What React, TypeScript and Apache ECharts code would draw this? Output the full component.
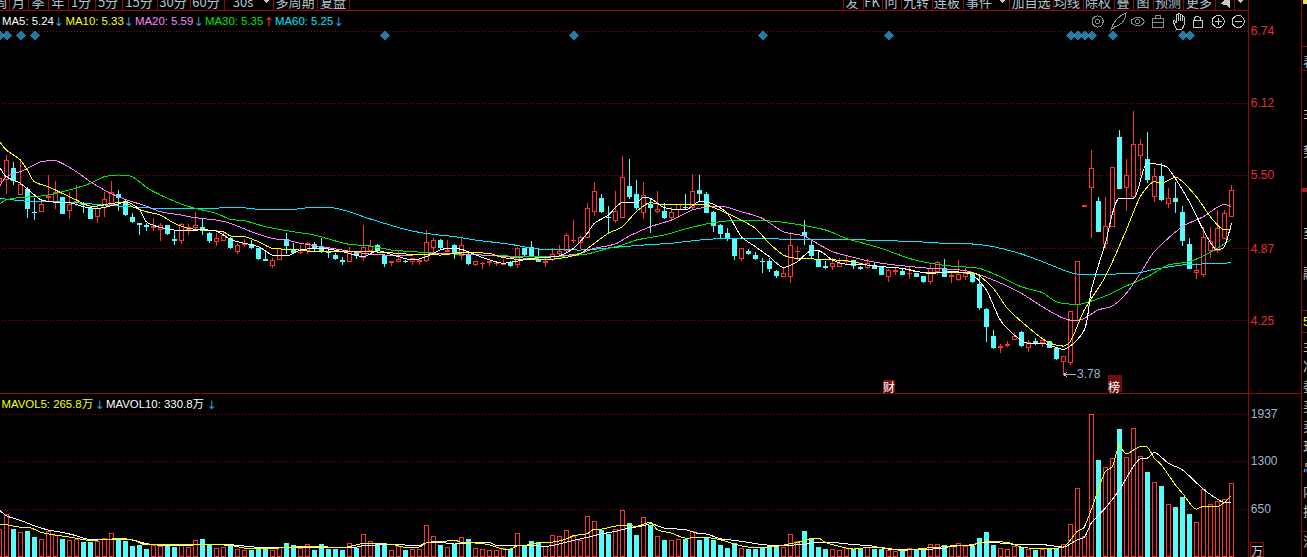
import React, { useEffect, useRef } from "react";
import * as echarts from "echarts";

const opens = [5.445,5.460,5.560,5.331,5.374,5.181,5.187,5.310,5.273,5.310,5.196,5.265,5.259,5.216,5.144,5.225,5.253,5.339,5.271,5.141,5.084,5.067,5.055,5.035,5.070,4.946,4.943,5.035,5.049,5.052,5.003,4.932,4.943,4.955,4.843,4.903,4.906,4.871,4.774,4.722,4.774,4.949,4.863,4.834,4.857,4.906,4.886,4.840,4.814,4.765,4.757,4.843,4.794,4.851,4.897,4.806,4.748,4.757,4.760,4.762,4.762,4.765,4.877,4.935,4.848,4.900,4.806,4.814,4.731,4.737,4.748,4.739,4.734,4.751,4.734,4.866,4.880,4.777,4.748,4.777,4.823,4.851,4.938,4.926,4.963,5.187,5.302,5.141,5.115,5.141,5.400,5.339,5.179,5.253,5.187,5.193,5.141,5.202,5.225,5.225,5.371,5.336,5.176,5.064,5.003,4.952,4.788,4.848,4.814,4.760,4.762,4.670,4.625,4.627,4.843,5.012,4.900,4.777,4.714,4.719,4.714,4.760,4.771,4.708,4.705,4.728,4.705,4.627,4.676,4.673,4.653,4.653,4.625,4.582,4.670,4.694,4.630,4.605,4.630,4.656,4.556,4.341,4.114,4.022,4.034,4.088,4.151,4.019,4.068,4.059,4.071,4.010,3.895,3.887,4.392,5.236,5.394,5.276,4.915,5.061,5.822,5.397,5.316,5.669,5.638,5.316,5.494,5.259,5.302,5.181,4.906,4.662,4.647,4.851,4.857,4.957,5.144];
const closes = [5.474,5.632,5.454,5.423,5.216,5.176,5.245,5.322,5.354,5.173,5.253,5.273,5.253,5.130,5.216,5.294,5.354,5.308,5.167,5.101,5.078,5.061,5.061,5.067,4.995,4.941,5.081,5.052,5.067,5.024,4.938,4.957,4.984,4.875,4.897,4.909,4.883,4.780,4.768,4.768,4.866,4.900,4.837,4.840,4.909,4.871,4.843,4.834,4.780,4.760,4.843,4.806,4.880,4.886,4.851,4.743,4.754,4.777,4.754,4.785,4.768,4.923,4.943,4.877,4.855,4.828,4.892,4.745,4.754,4.745,4.754,4.745,4.743,4.722,4.866,4.820,4.814,4.757,4.762,4.820,4.843,4.984,4.943,4.969,5.216,5.362,5.187,5.135,5.190,5.483,5.322,5.219,5.328,5.219,5.207,5.133,5.181,5.248,5.219,5.362,5.342,5.176,5.067,5.003,4.957,4.814,4.866,4.823,4.785,4.754,4.694,4.639,4.656,4.897,4.848,4.984,4.806,4.719,4.708,4.743,4.743,4.765,4.728,4.702,4.743,4.702,4.650,4.685,4.682,4.647,4.659,4.627,4.582,4.694,4.748,4.627,4.636,4.650,4.656,4.590,4.358,4.197,4.019,4.028,4.045,4.111,4.034,4.065,4.062,4.077,4.016,3.927,3.941,4.326,4.757,5.242,5.560,5.015,5.058,5.566,5.388,5.500,5.767,5.767,5.466,5.488,5.296,5.299,5.273,4.938,4.699,4.682,4.966,4.929,5.044,5.173,5.371];
const lows = [5.402,5.339,5.417,5.331,5.130,5.115,5.187,5.273,5.207,5.167,5.124,5.239,5.173,5.124,5.093,5.144,5.248,5.196,5.150,5.087,4.986,5.024,5.024,4.935,4.986,4.900,4.912,4.984,5.030,4.986,4.915,4.892,4.938,4.869,4.825,4.883,4.866,4.771,4.762,4.705,4.768,4.823,4.823,4.820,4.825,4.843,4.831,4.785,4.768,4.731,4.754,4.780,4.762,4.837,4.834,4.714,4.722,4.751,4.743,4.728,4.731,4.757,4.834,4.863,4.843,4.780,4.771,4.728,4.719,4.694,4.722,4.722,4.728,4.714,4.705,4.800,4.800,4.751,4.714,4.765,4.817,4.843,4.920,4.863,4.963,5.153,5.173,5.006,5.093,5.135,5.296,5.202,5.124,5.001,5.179,5.121,5.110,5.130,5.202,5.202,5.276,5.173,5.015,4.957,4.938,4.771,4.762,4.817,4.771,4.662,4.670,4.616,4.622,4.576,4.771,4.900,4.785,4.719,4.696,4.685,4.714,4.737,4.696,4.685,4.691,4.699,4.642,4.585,4.642,4.642,4.605,4.622,4.576,4.565,4.642,4.622,4.576,4.593,4.599,4.573,4.341,4.068,4.005,3.968,4.025,4.082,4.019,3.982,4.039,4.025,4.010,3.910,3.780,3.867,4.254,5.236,4.963,5.009,4.869,5.058,5.380,5.196,5.296,5.497,5.431,5.268,5.276,5.222,5.179,4.894,4.691,4.605,4.622,4.785,4.828,4.949,5.144];
const highs = [5.517,5.675,5.618,5.626,5.402,5.302,5.273,5.503,5.451,5.316,5.354,5.414,5.273,5.225,5.245,5.360,5.451,5.374,5.296,5.173,5.087,5.087,5.130,5.093,5.075,5.030,5.087,5.081,5.181,5.127,5.009,5.001,5.015,4.966,4.920,4.952,4.943,4.877,4.848,4.785,4.871,5.001,4.920,4.900,4.929,4.923,4.957,4.871,4.828,4.794,4.880,4.851,5.073,4.943,4.909,4.820,4.762,4.857,4.774,4.791,4.785,5.030,4.957,4.952,4.943,4.909,4.957,4.843,4.765,4.757,4.765,4.757,4.777,4.762,4.880,4.871,4.935,4.871,4.785,4.877,4.900,5.001,5.115,4.986,5.259,5.440,5.339,5.236,5.365,5.667,5.641,5.460,5.443,5.302,5.365,5.259,5.225,5.250,5.339,5.511,5.503,5.356,5.193,5.081,5.044,4.957,4.877,4.866,4.840,4.785,4.785,4.685,4.699,5.009,4.892,5.115,4.943,4.851,4.765,4.785,4.785,4.814,4.771,4.722,4.777,4.743,4.714,4.691,4.699,4.691,4.714,4.656,4.627,4.728,4.762,4.780,4.656,4.771,4.699,4.670,4.627,4.355,4.169,4.048,4.077,4.154,4.160,4.082,4.097,4.097,4.077,4.025,3.941,4.326,4.757,5.242,5.718,5.310,5.310,5.566,5.890,5.638,6.054,5.813,5.870,5.560,5.603,5.388,5.440,5.236,4.957,4.743,5.052,5.058,5.202,5.202,5.417];
const volumes = [379,587,384,339,357,275,244,352,293,248,230,244,208,199,221,257,325,244,221,154,167,113,163,154,154,131,172,135,230,248,181,122,135,163,113,95,99,122,108,95,135,194,167,122,172,99,181,113,113,99,190,122,312,217,181,190,90,154,99,108,108,433,289,158,135,181,271,248,122,108,95,95,122,108,325,167,221,199,154,298,284,366,289,235,555,488,370,316,379,637,465,303,542,438,284,235,230,248,248,352,235,271,235,167,126,190,122,113,113,126,163,167,135,312,217,357,248,140,113,108,95,117,108,108,135,108,108,99,86,99,122,90,95,176,176,163,154,185,144,144,262,343,167,126,108,154,135,108,99,108,108,122,176,447,935,289,1937,1318,1219,1341,1738,1355,1747,1368,1156,1016,966,718,682,817,587,474,921,718,759,786,1002];

const ma5: [number, number][] = [[0,5.575],[1,5.488],[3,5.431],[5,5.331],[6,5.288],[8,5.268],[10,5.265],[12,5.230],[14,5.216],[17,5.253],[18,5.273],[20,5.207],[21,5.101],[23,5.052],[26,5.024],[29,5.030],[31,5.021],[33,4.949],[34,4.929],[37,4.886],[39,4.814],[41,4.806],[43,4.857],[46,4.871],[49,4.843],[52,4.800],[54,4.851],[57,4.800],[59,4.771],[61,4.800],[63,4.857],[64,4.871],[66,4.863],[69,4.794],[72,4.743],[74,4.762],[76,4.785],[78,4.794],[80,4.806],[82,4.871],[84,5.001],[85,5.087],[87,5.158],[89,5.265],[91,5.265],[92,5.310],[93,5.302],[95,5.222],[98,5.202],[100,5.273],[102,5.253],[104,5.173],[106,4.972],[108,4.886],[110,4.800],[112,4.708],[114,4.757],[116,4.851],[117,4.851],[119,4.771],[121,4.734],[124,4.728],[126,4.714],[129,4.699],[133,4.656],[136,4.670],[139,4.642],[141,4.513],[143,4.254],[145,4.125],[147,4.053],[149,4.053],[152,4.002],[155,4.168],[156,4.513],[158,4.915],[160,5.302],[162,5.302],[164,5.603],[166,5.589],[167,5.560],[170,5.273],[172,5.030],[174,4.857],[175,4.886],[176,5.087]];
const ma10: [number, number][] = [[0,5.796],[1,5.718],[3,5.632],[4,5.546],[5,5.445],[7,5.402],[9,5.345],[11,5.288],[13,5.236],[14,5.236],[16,5.259],[18,5.265],[19,5.230],[21,5.187],[23,5.158],[25,5.087],[27,5.044],[30,5.024],[32,5.015],[33,4.978],[35,4.972],[37,4.929],[39,4.871],[42,4.863],[45,4.843],[49,4.843],[52,4.843],[55,4.837],[58,4.823],[63,4.814],[66,4.834],[70,4.828],[72,4.791],[76,4.771],[80,4.785],[83,4.828],[85,4.915],[87,5.001],[89,5.058],[91,5.187],[93,5.265],[95,5.245],[99,5.253],[101,5.245],[104,5.173],[106,5.115],[108,5.044],[110,4.915],[112,4.814],[114,4.785],[118,4.777],[122,4.757],[124,4.728],[126,4.714],[129,4.699],[131,4.670],[135,4.662],[139,4.662],[142,4.527],[144,4.355],[148,4.140],[150,4.059],[152,4.030],[153,4.068],[155,4.341],[158,4.627],[161,5.030],[163,5.316],[165,5.445],[166,5.431],[168,5.483],[171,5.316],[173,5.144],[175,5.030],[176,5.035]];
const ma20: [number, number][] = [[0,5.402],[1,5.488],[3,5.532],[5,5.589],[6,5.618],[8,5.626],[9,5.603],[11,5.532],[13,5.445],[15,5.374],[17,5.316],[19,5.273],[21,5.236],[23,5.187],[26,5.158],[28,5.135],[31,5.115],[33,5.087],[36,5.015],[39,4.957],[41,4.943],[43,4.915],[46,4.886],[49,4.857],[52,4.828],[55,4.814],[59,4.814],[63,4.828],[66,4.823],[71,4.806],[76,4.785],[80,4.806],[83,4.828],[85,4.871],[88,4.909],[90,4.978],[93,5.058],[96,5.115],[99,5.202],[101,5.225],[103,5.236],[106,5.187],[109,5.130],[112,5.015],[115,4.978],[116,4.943],[119,4.843],[122,4.794],[124,4.765],[126,4.743],[128,4.728],[133,4.699],[138,4.679],[142,4.599],[146,4.484],[149,4.369],[152,4.269],[154,4.249],[155,4.269],[157,4.341],[159,4.375],[161,4.484],[163,4.656],[165,4.843],[169,5.058],[172,5.144],[175,5.250],[176,5.230]];
const ma30: [number, number][] = [[0,5.253],[1,5.288],[3,5.310],[5,5.316],[7,5.331],[10,5.374],[13,5.431],[15,5.488],[17,5.503],[19,5.488],[21,5.397],[23,5.331],[26,5.253],[28,5.216],[31,5.173],[33,5.121],[35,5.110],[38,5.058],[41,5.024],[45,4.986],[48,4.935],[50,4.906],[53,4.892],[56,4.857],[59,4.843],[63,4.828],[69,4.814],[76,4.800],[81,4.806],[84,4.823],[87,4.871],[89,4.900],[91,4.943],[95,4.986],[98,5.038],[102,5.093],[105,5.110],[109,5.110],[113,5.087],[118,5.030],[121,4.957],[124,4.906],[126,4.871],[130,4.785],[133,4.743],[136,4.719],[140,4.699],[143,4.627],[146,4.541],[149,4.490],[151,4.412],[154,4.389],[155,4.398],[158,4.461],[161,4.547],[164,4.627],[167,4.728],[170,4.757],[173,4.837],[176,4.949]];
const ma60: [number, number][] = [[0,5.302],[3,5.282],[5,5.273],[8,5.273],[12,5.259],[17,5.236],[23,5.216],[30,5.216],[34,5.225],[38,5.202],[40,5.202],[42,5.207],[45,5.225],[47,5.225],[50,5.187],[52,5.144],[55,5.087],[58,5.035],[60,5.009],[62,4.992],[65,4.972],[68,4.943],[73,4.906],[77,4.866],[83,4.857],[88,4.880],[92,4.900],[96,4.915],[100,4.943],[104,4.957],[109,4.955],[114,4.949],[119,4.949],[124,4.943],[131,4.929],[135,4.915],[139,4.909],[142,4.886],[146,4.823],[149,4.757],[152,4.685],[154,4.650],[157,4.650],[162,4.653],[165,4.691],[169,4.728],[172,4.737],[174,4.737],[176,4.751]];
const mavol5: [number, number][] = [[0,447],[1,438],[3,406],[4,406],[6,334],[8,298],[10,271],[13,226],[17,248],[19,235],[21,163],[25,163],[29,167],[33,158],[35,122],[38,113],[42,135],[45,144],[49,126],[52,181],[56,172],[58,131],[60,135],[61,190],[63,217],[64,217],[65,230],[66,199],[68,190],[70,167],[72,108],[73,108],[74,154],[76,167],[77,199],[79,203],[81,244],[82,289],[84,316],[85,379],[86,379],[88,420],[90,429],[91,415],[93,474],[94,370],[96,325],[98,257],[101,262],[103,235],[105,176],[107,135],[109,131],[111,144],[113,181],[115,217],[116,257],[117,257],[118,199],[120,144],[122,108],[124,126],[126,126],[129,90],[133,126],[136,144],[139,167],[141,208],[144,199],[146,135],[149,113],[152,135],[154,348],[155,406],[157,912],[158,1160],[159,1228],[160,1508],[161,1400],[163,1499],[164,1490],[165,1341],[166,1251],[168,980],[169,867],[171,650],[172,691],[174,686],[175,740],[176,831]];
const mavol10: [number, number][] = [[0,641],[1,560],[3,497],[5,424],[7,366],[9,334],[11,289],[13,235],[16,244],[19,230],[21,181],[24,154],[26,154],[30,176],[33,167],[38,126],[42,135],[46,135],[51,135],[52,154],[56,167],[60,158],[61,190],[63,199],[65,176],[69,199],[70,199],[71,158],[74,154],[76,154],[78,144],[80,176],[82,226],[84,266],[86,312],[88,348],[90,393],[92,424],[93,451],[95,393],[98,370],[100,316],[101,312],[103,248],[105,226],[107,199],[109,167],[112,158],[115,172],[117,199],[120,190],[122,167],[124,158],[125,144],[127,108],[133,108],[135,117],[136,154],[139,154],[140,199],[143,190],[146,167],[149,167],[152,135],[154,235],[155,266],[156,461],[158,664],[160,912],[162,1228],[163,1332],[164,1341],[165,1418],[167,1273],[169,1183],[172,921],[174,786],[175,740],[176,740]];

const signalIndices = [0,1,3,5,55,82,109,127,153,154,155,156,159,169,170];
const signalPrice = 6.704;
const priceTicks = [4.25,4.87,5.50,6.12,6.74];
const volumeTicks = [650,1300,1937];
const slotCount = 179;
const categories = Array.from({ length: slotCount }, (_, i) => String(i));

const toolbarLeft: [string, number][] = [["周",1],["月",18.5],["季",38],["年",58],["1分",81],["5分",108],["15分",139],["30分",173],["60分",206],["30s",243],["多周期",295],["复盘",333]];
const toolbarRight: [string, number][] = [["发",852],["FK",872],["问",891],["九转",916],["连板",947],["事件",979],["加自选",1031],["均线",1067],["除权",1098],["叠",1123],["图",1143],["预测",1168],["更多",1199]];
const toolbarSeps = [9,28.3,48.3,68.3,95,122.3,156.7,190,224,273.3,317.3,349,843.3,862.7,881.7,900.7,931.7,963.3,1009.3,1052.7,1082.7,1114.3,1133.3,1152.7,1183.3,1215,1234];
const sideGlyphs: [string, number][] = [["表",60],["主",112],["势",150],["至",232],["融",272],["主",345],["净",365],["委",385],["买",405],["卖",425],["现",445],["总",465],["内",490],["换",510],["流",540]];

const CHART_SHIFT = 5;
const RED = "#ff3232";
const CYAN = "#54fcfc";
const DARK = "#8f0a0a";
const ICON = "#8e8e8e";
const CJK = '"Noto Sans CJK SC", sans-serif';
const LATIN = '"Liberation Sans", Arial, sans-serif';
const ARROW = '"DejaVu Sans", sans-serif';
const MIXED = '"Liberation Sans", "Noto Sans CJK SC"';

function txt(text: string, x: number, y: number, fill: string, font = LATIN, size = 12, align = "left") {
  return { type: "text", x, y, silent: true, z: 20, style: { text, fill, font: `${size}px ${font}`, textAlign: align, textVerticalAlign: "middle" } };
}
function vline(x: number, y1: number, y2: number, stroke = DARK) {
  return { type: "line", silent: true, z: 19, shape: { x1: x, y1, x2: x, y2 }, style: { stroke, lineWidth: 1 } };
}
function hline(y: number, x1: number, x2: number, stroke = DARK) {
  return { type: "line", silent: true, z: 19, shape: { x1, y1: y, x2, y2: y }, style: { stroke, lineWidth: 1 } };
}
function stroke(type: string, shape: any, extra: any = {}) {
  return { type, shape, silent: true, z: 20, style: { fill: "none", stroke: ICON, lineWidth: 1, ...extra } };
}

echarts.graphic.registerShape("handIcon", echarts.graphic.extendPath("M3 13 L1 8 Q1 6 3 8 L4 10 L4 2 Q5 0 6 2 L6 8 L6 1 Q7 -1 8 1 L8 8 L8 2 Q9 0 10 2 L10 8 L10 4 Q11 2 12 4 L12 12 Q11 17 7 17 Q4 17 3 13 Z", {}) as any);
echarts.graphic.registerShape("quillIcon", echarts.graphic.extendPath("M0 17 Q3 5 15 0 Q15 8 8 12 Q4 13 0 17 Z", {}) as any);

function buildGraphics() {
  const g: any[] = [];
  g.push(hline(10.5, 0, 1248));
  g.push(hline(393.5, 0, 1302));
  g.push(vline(1248.5, 0, 557));
  g.push(vline(1301.5, 0, 557));
  for (const x of toolbarSeps) g.push(vline(Math.round(x) + 0.5, 0, 10));
  for (const [t, x] of toolbarLeft) g.push(txt(t, x, 1, "#b9c2cc", CJK, 13, "center"));
  for (const [t, x] of toolbarRight) g.push(txt(t, x, 1, "#b9c2cc", CJK, 13, "center"));
  for (const x of [266, 1002, 1240]) g.push({ type: "polygon", silent: true, z: 20, shape: { points: [[x - 3, 0], [x + 3, 0], [x, 3]] }, style: { fill: "#c8c8c8" } });
  g.push({ type: "polygon", silent: true, z: 20, shape: { points: [[1220, 4], [1225, 0], [1230, 0], [1230, 8], [1226, 5]] }, style: { fill: "#c8c8c8" } });
  const legend: [string, number, string, string, number][] = [
    ["MA5: 5.24", 2, "#ffffff", "↓", 58.5],
    ["MA10: 5.33", 65.5, "#ffff00", "↓", 128.5],
    ["MA20: 5.59", 135, "#ff80ff", "↓", 198.5],
    ["MA30: 5.35", 205, "#00e600", "↑", 268.5],
    ["MA60: 5.25", 275, "#00e6ff", "↓", 338.5],
  ];
  for (const [t, x, c, a, ax] of legend) {
    g.push(txt(t, x, 21, c, LATIN, 11.4));
    g.push(txt(a, ax, 22, a === "↑" ? RED : "#2a9fd6", ARROW, 12, "center"));
  }
  g.push(txt("MAVOL5: 265.8万", 1.5, 404, "#ffff00", MIXED, 11.4));
  g.push(txt("↓", 99.5, 405, "#2a9fd6", ARROW, 12, "center"));
  g.push(txt("MAVOL10: 330.8万", 106, 404, "#ffffff", MIXED, 11.4));
  g.push(txt("↓", 211.5, 405, "#2a9fd6", ARROW, 12, "center"));
  const iy = 21.5;
  g.push(stroke("circle", { cx: 1097.7, cy: iy, r: 5.5 }), stroke("circle", { cx: 1097.7, cy: iy, r: 2.2 }));
  g.push({ type: "quillIcon", x: 1111, y: 13, silent: true, z: 20, style: { fill: "none", stroke: ICON, lineWidth: 1 } });
  g.push(stroke("ellipse", { cx: 1137.7, cy: iy, rx: 6.5, ry: 4 }), stroke("circle", { cx: 1137.7, cy: iy, r: 2.2 }));
  g.push(stroke("rect", { x: 1152.5, y: 18, width: 11, height: 9 }), stroke("rect", { x: 1155.5, y: 15, width: 5, height: 3 }), stroke("line", { x1: 1152.5, y1: 22, x2: 1163.5, y2: 22 }));
  g.push({ type: "handIcon", x: 1172, y: 13, silent: true, z: 20, style: { fill: "none", stroke: "#c8c8c8", lineWidth: 1 } });
  g.push(stroke("rect", { x: 1193, y: 20, width: 9, height: 7 }, { stroke: "#c8c8c8" }), stroke("arc", { cx: 1197.5, cy: 20, r: 3.5, startAngle: Math.PI, endAngle: 0, clockwise: true }, { stroke: "#c8c8c8" }));
  for (const cx of [1218.3, 1238.3]) g.push(stroke("circle", { cx, cy: iy, r: 6 }, { stroke: "#c8c8c8" }), stroke("line", { x1: cx - 3.5, y1: iy, x2: cx + 3.5, y2: iy }, { stroke: "#c8c8c8" }));
  g.push(stroke("line", { x1: 1218.3, y1: iy - 3.5, x2: 1218.3, y2: iy + 3.5 }, { stroke: "#c8c8c8" }));
  g.push(stroke("line", { x1: 1063.5, y1: 374.5, x2: 1076, y2: 374.5 }, { stroke: "#aab4be" }));
  g.push({ type: "polyline", silent: true, z: 20, shape: { points: [[1067, 372], [1064, 374.5], [1067, 377]] }, style: { fill: "none", stroke: "#c8c8c8" } });
  g.push(txt("3.78", 1077, 374, "#9db4cc"));
  g.push({ type: "rect", silent: true, z: 19, shape: { x: 883, y: 380, width: 12, height: 12 }, style: { fill: "#7a1010" } });
  g.push(txt("财", 889, 386, "#ffffff", CJK, 12, "center"));
  g.push({ type: "rect", silent: true, z: 19, shape: { x: 1108, y: 375, width: 14, height: 17 }, style: { fill: "#6b0f0f" } });
  g.push(txt("榜", 1114, 386, "#ffffff", CJK, 12, "center"));
  g.push({ type: "rect", silent: true, z: 20, shape: { x: 1250.5, y: 542.5, width: 13, height: 14 }, style: { fill: "none", stroke: DARK } });
  g.push(txt("万", 1257, 550, "#c8d0d8", CJK, 12, "center"));
  for (const y of [46.5, 70.5, 310.5, 332.5, 531.5]) g.push(hline(y, 1302, 1307));
  g.push({ type: "rect", silent: true, z: 19, shape: { x: 1302, y: 188, width: 5, height: 4 }, style: { fill: "#b01818" } });
  g.push({ type: "rect", silent: true, z: 19, shape: { x: 1303, y: 0, width: 4, height: 4 }, style: { fill: "#e8e840" } });
  g.push(txt("5", 1303, 321, "#ffff00", LATIN, 13));
  for (const [t, y] of sideGlyphs) g.push(txt(t, 1303, y, "#c0c0c0", CJK, 13));
  return [{ type: "group", x: CHART_SHIFT, y: 0, children: g }];
}

function buildOption() {
  const candleData = opens.map((o, i) => [o, closes[i], lows[i], highs[i]]);
  const volumeData = volumes.map((v, i) => {
    const up = closes[i] > opens[i];
    return { value: v, itemStyle: up ? { color: "#000", borderColor: RED, borderWidth: 1 } : { color: CYAN, borderColor: CYAN, borderWidth: 1 } };
  });
  const line = (name: string, data: [number, number][], color: string, xi: number, z: number, width = 1) => ({
    name, type: "line", data, xAxisIndex: xi, yAxisIndex: xi, showSymbol: false, symbol: "none", smooth: 0.25, z, silent: true,
    lineStyle: { color, width },
  });
  return {
    animation: false,
    backgroundColor: "#000",
    grid: [
      { left: 0.83, width: 1253, top: 11, height: 382 },
      { left: 0.83, width: 1253, top: 393, height: 164 },
    ],
    xAxis: [0, 1].map((gridIndex) => ({ type: "category", gridIndex, data: categories, boundaryGap: true, show: false })),
    yAxis: [
      {
        type: "value", gridIndex: 0, position: "right", min: 3.626, max: 6.915, scale: true,
        axisLine: { show: false },
        axisTick: { show: false, customValues: priceTicks },
        axisLabel: { customValues: priceTicks, margin: 2, color: "#e83030", fontFamily: LATIN, fontSize: 12, padding: [2, 0, 0, 0], formatter: (v: number) => v.toFixed(2) },
        splitLine: { show: true, lineStyle: { color: "#8f0a0a", type: [1, 2], width: 1 } },
      },
      {
        type: "value", gridIndex: 1, position: "right", min: 0, max: 2226,
        axisLine: { show: false },
        axisTick: { show: false, customValues: volumeTicks },
        axisLabel: { customValues: volumeTicks, margin: 2, color: "#a3b6c9", fontFamily: LATIN, fontSize: 12, padding: [2, 0, 0, 0], formatter: (v: number) => String(v) },
        splitLine: { show: true, lineStyle: { color: "#8f0a0a", type: [1, 2], width: 1 } },
      },
    ],
    series: [
      {
        name: "K", type: "candlestick", xAxisIndex: 0, yAxisIndex: 0, data: candleData, barWidth: 5, z: 3, silent: true,
        itemStyle: { color: "#000", color0: CYAN, borderColor: RED, borderColor0: CYAN, borderWidth: 1 },
      },
      {
        name: "signals", type: "scatter", xAxisIndex: 0, yAxisIndex: 0, data: signalIndices.map((i) => [i, signalPrice]),
        symbol: "diamond", symbolSize: 10, symbolOffset: [1, 0], z: 4, silent: true, itemStyle: { color: "#2a9ac8" },
      },
      line("MA60", ma60, "#00e6ff", 0, 5),
      line("MA30", ma30, "#00e600", 0, 6),
      line("MA20", ma20, "#ff80ff", 0, 7),
      line("MA10", ma10, "#ffff00", 0, 8),
      line("MA5", ma5, "#ffffff", 0, 9),
      { name: "VOL", type: "bar", xAxisIndex: 1, yAxisIndex: 1, data: volumeData, barWidth: 5, z: 3, silent: true },
      line("MAVOL10", mavol10, "#ffffff", 1, 8),
      line("MAVOL5", mavol5, "#ffff00", 1, 9),
    ],
    graphic: { elements: buildGraphics() },
  };
}

export default function App() {
  const ref = useRef<HTMLDivElement | null>(null);
  useEffect(() => {
    document.body.style.margin = "0";
    document.body.style.background = "#000";
    document.documentElement.style.overflow = "hidden";
    const chart = echarts.init(ref.current!, undefined, { renderer: "svg" });
    chart.setOption(buildOption() as any);
    return () => chart.dispose();
  }, []);
  return (
    <>
      <style>{"svg path { shape-rendering: crispEdges; }"}</style>
      <div ref={ref} style={{ position: "fixed", left: -CHART_SHIFT, top: 0, width: 1307 + CHART_SHIFT, height: 557, background: "#000" }} />
    </>
  );
}
